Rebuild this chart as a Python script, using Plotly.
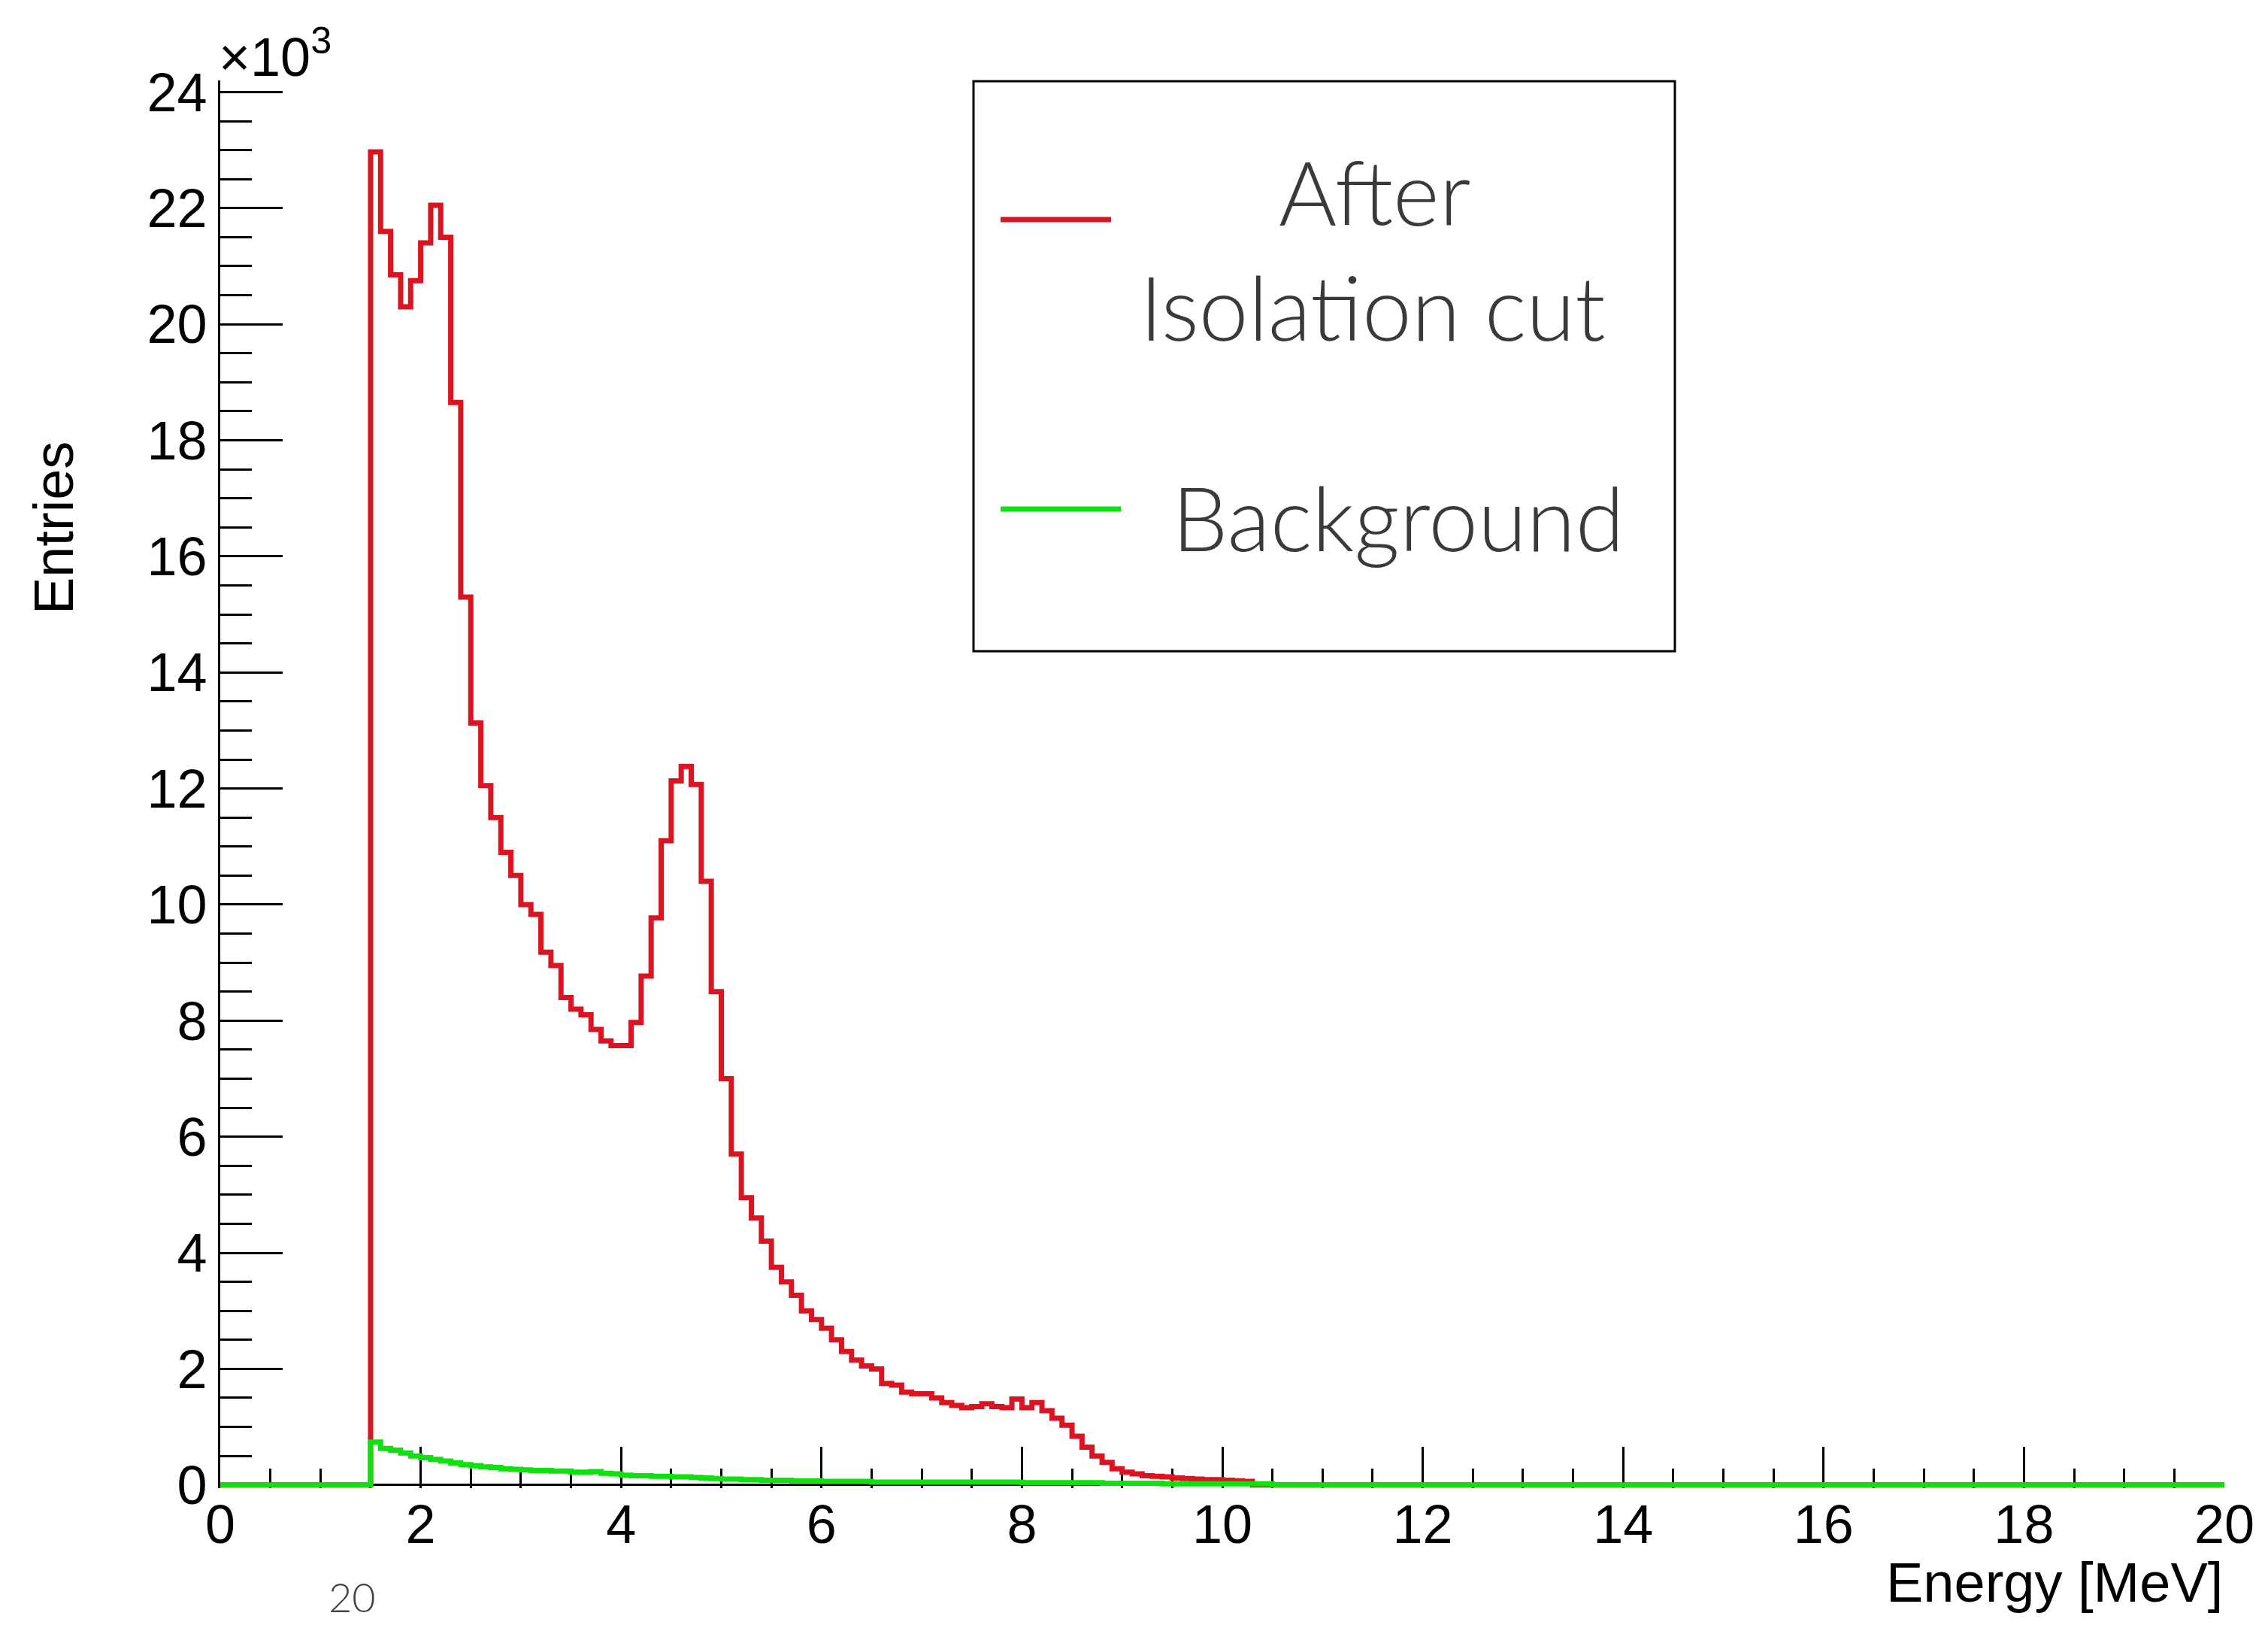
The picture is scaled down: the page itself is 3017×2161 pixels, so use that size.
import plotly.graph_objects as go

# ---------------- data (values in units of 10^3 entries) ----------------
bin_width = 0.1          # MeV
n_bins = 200             # 0 .. 20 MeV
first_bin = 1.5          # MeV, first filled bin of both histograms

after_cut_k = [
    22.97, 21.60, 20.85, 20.30, 20.75, 21.40, 22.05, 21.50, 18.65, 15.30,   # 1.5-2.4
    13.13, 12.05, 11.50, 10.90, 10.50, 10.00, 9.83, 9.18, 8.95, 8.40,       # 2.5-3.4
    8.20, 8.10, 7.85, 7.65, 7.57, 7.57, 7.97, 8.77, 9.77, 11.10,            # 3.5-4.4
    12.13, 12.38, 12.07, 10.40, 8.50, 7.00, 5.70, 4.95, 4.60, 4.20,         # 4.5-5.4
    3.75, 3.50, 3.27, 3.00, 2.85, 2.70, 2.50, 2.30, 2.15, 2.05,             # 5.5-6.4
    2.00, 1.75, 1.72, 1.60, 1.57, 1.57, 1.50, 1.42, 1.37, 1.33,             # 6.5-7.4
    1.35, 1.40, 1.35, 1.33, 1.48, 1.33, 1.42, 1.28, 1.15, 1.03,             # 7.5-8.4
    0.84, 0.65, 0.50, 0.39, 0.28, 0.22, 0.19, 0.16, 0.15, 0.14,             # 8.5-9.4
    0.12, 0.11, 0.10, 0.09, 0.09, 0.08, 0.07, 0.06,                         # 9.5-10.2
]

background_k = [
    0.74, 0.63, 0.60, 0.55, 0.50, 0.47, 0.44, 0.41, 0.38, 0.35,   # 1.5-2.4
    0.33, 0.31, 0.30, 0.28, 0.27, 0.26, 0.25, 0.25, 0.24, 0.24,   # 2.5-3.4
    0.22, 0.22, 0.23, 0.20, 0.19, 0.17, 0.16, 0.16, 0.15, 0.15,   # 3.5-4.4
    0.14, 0.14, 0.13, 0.12, 0.11, 0.10, 0.10, 0.09, 0.09, 0.08,   # 4.5-5.4
    0.08, 0.08, 0.07, 0.07, 0.07, 0.06, 0.06, 0.06, 0.06, 0.06,   # 5.5-6.4
    0.05, 0.05, 0.05, 0.05, 0.05, 0.05, 0.05, 0.05, 0.05, 0.05,   # 6.5-7.4
    0.05, 0.05, 0.05, 0.05, 0.05, 0.04, 0.04, 0.04, 0.04, 0.04,   # 7.5-8.4
    0.04, 0.04, 0.04, 0.03, 0.03, 0.03, 0.03, 0.03, 0.03, 0.02,   # 8.5-9.4
    0.02, 0.02, 0.02, 0.02, 0.02, 0.02, 0.02, 0.02, 0.02, 0.02,   # 9.5-10.4
]

x_ticks = [0, 2, 4, 6, 8, 10, 12, 14, 16, 18, 20]
y_ticks = [0, 2, 4, 6, 8, 10, 12, 14, 16, 18, 20, 22, 24]

legend_after_1 = "After"
legend_after_2 = "Isolation cut"
legend_bkg = "Background"

# ---------------- build full histograms ----------------
def full_hist(vals, start):
    arr = [0.0] * n_bins
    i0 = int(round(start / bin_width))
    for i, v in enumerate(vals):
        arr[i0 + i] = v
    return arr

edges = [round(i * bin_width, 4) for i in range(n_bins + 1)]
red = full_hist(after_cut_k, first_bin)
green = full_hist(background_k, first_bin)

RED = "#dc1422"
GREEN = "#10e010"
FONT = "Liberation Sans"
LW = 7

fig = go.Figure()
fig.add_trace(go.Scatter(x=edges, y=red + [red[-1]], mode="lines",
                         line=dict(shape="hv", color=RED, width=LW),
                         name="After Isolation cut", showlegend=False))
fig.add_trace(go.Scatter(x=edges, y=green + [green[-1]], mode="lines",
                         line=dict(shape="hv", color=GREEN, width=LW),
                         name="Background", showlegend=False))

W, H = 3017, 2161
ml, mr, mt, mb = 293, 58, 107, 182
pw, ph = W - ml - mr, H - mt - mb

def px(xp):
    return (xp - ml) / pw

def py(yp):
    return (H - mb - yp) / ph

fig.update_layout(
    width=W, height=H,
    margin=dict(l=ml, r=mr, t=mt, b=mb, pad=0),
    paper_bgcolor="white", plot_bgcolor="white",
    showlegend=False,
    xaxis=dict(range=[0, 20], showgrid=False, zeroline=False, showline=False,
               ticks="inside", ticklen=55, tickwidth=3, tickcolor="black",
               tickmode="array", tickvals=x_ticks, ticktext=[str(t) for t in x_ticks],
               tickfont=dict(family=FONT, size=72, color="black"),
               minor=dict(ticks="inside", ticklen=26, tickwidth=3, tickcolor="black",
                          dtick=0.5, tick0=0, showgrid=False),
               layer="below traces"),
    yaxis=dict(range=[-0.055, 24.2], showgrid=False,
               zeroline=True, zerolinecolor="black", zerolinewidth=3,
               showline=True, linecolor="black", linewidth=3,
               ticks="inside", ticklen=83, tickwidth=3, tickcolor="black",
               tickmode="array", tickvals=y_ticks, ticktext=[str(t) for t in y_ticks],
               tickfont=dict(family=FONT, size=72, color="black"),
               minor=dict(ticks="inside", ticklen=42, tickwidth=3, tickcolor="black",
                          dtick=0.5, tick0=0, showgrid=False),
               layer="below traces"),
)

ann = []
ann.append(dict(text="Energy [MeV]", x=1.0, y=py(2104), xref="paper", yref="paper",
                xanchor="right", yanchor="middle", showarrow=False,
                font=dict(family=FONT, size=74, color="black")))
ann.append(dict(text="Entries", x=px(71), y=py(702), xref="paper", yref="paper",
                xanchor="center", yanchor="middle", textangle=-90, showarrow=False,
                font=dict(family=FONT, size=74, color="black")))
ann.append(dict(text="×10<sup>3</sup>", x=px(289), y=py(118), xref="paper", yref="paper",
                xanchor="left", yanchor="bottom", showarrow=False,
                font=dict(family=FONT, size=72, color="black")))
LFONT = dict(family="Lato", size=118, color="#3a3a3a", weight=300)
ann.append(dict(text=legend_after_1, x=px(1828), y=py(254), xref="paper", yref="paper",
                xanchor="center", yanchor="middle", showarrow=False, font=LFONT))
ann.append(dict(text=legend_after_2, x=px(1826), y=py(408), xref="paper", yref="paper",
                xanchor="center", yanchor="middle", showarrow=False, font=LFONT))
ann.append(dict(text=legend_bkg, x=px(1860), y=py(687), xref="paper", yref="paper",
                xanchor="center", yanchor="middle", showarrow=False, font=LFONT))
ann.append(dict(text="20", x=px(468), y=py(2158), xref="paper", yref="paper",
                xanchor="center", yanchor="bottom", showarrow=False,
                font=dict(family="Lato", size=54, color="#444444", weight=300)))
fig.update_layout(annotations=ann)

shapes = [
    dict(type="rect", xref="paper", yref="paper", x0=px(1295), x1=px(2228),
         y0=py(866), y1=py(108), line=dict(color="black", width=3), fillcolor="white"),
    dict(type="line", xref="paper", yref="paper", x0=px(1331), x1=px(1478),
         y0=py(292), y1=py(292), line=dict(color=RED, width=LW)),
    dict(type="line", xref="paper", yref="paper", x0=px(1331), x1=px(1491),
         y0=py(677), y1=py(677), line=dict(color=GREEN, width=LW)),
]
fig.update_layout(shapes=shapes)

fig.write_html("out.html")
